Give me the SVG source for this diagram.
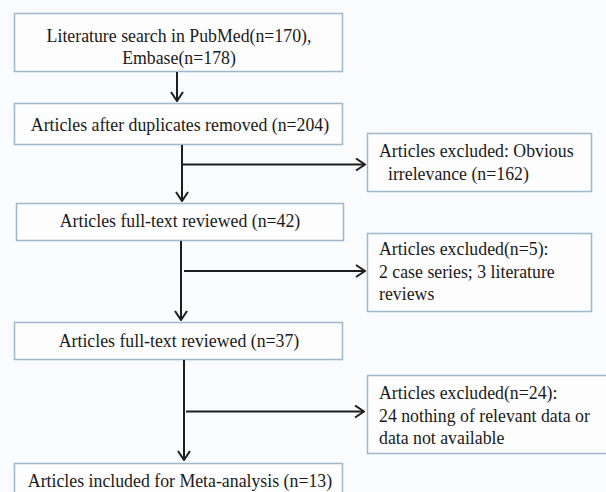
<svg xmlns="http://www.w3.org/2000/svg" width="606" height="492" viewBox="0 0 606 492">
<defs>
<marker id="ah" viewBox="0 0 12 14" refX="11" refY="7" markerWidth="12" markerHeight="14" markerUnits="userSpaceOnUse" orient="auto">
<path d="M2,1 L11,7 L2,13" fill="none" stroke="#1e1e1e" stroke-width="2"/>
</marker>
</defs>
<style>
.box{fill:#fdfdfe;stroke:#9db8cb;stroke-width:1.5}
.t{font-family:"Liberation Serif","Times New Roman",serif;font-size:17.8px;fill:#1a1a1a}
.c{text-anchor:middle}
.ln{stroke:#1e1e1e;stroke-width:2;fill:none}
</style>
<rect width="606" height="492" fill="#fafbfd"/>
<g id="n1"><rect class="box" x="14.5" y="13.5" width="328" height="58"/>
<text class="t c" x="179" y="42">Literature search in PubMed(n=170),</text>
<text class="t c" x="179" y="64">Embase(n=178)</text></g>
<g id="n2"><rect class="box" x="14.5" y="103.5" width="328" height="41"/>
<text class="t c" x="180" y="131">Articles after duplicates removed (n=204)</text></g>
<g id="n3"><rect class="box" x="367.5" y="133.5" width="224" height="58"/>
<text class="t" x="379" y="157">Articles excluded: Obvious</text>
<text class="t" x="388" y="180">irrelevance (n=162)</text></g>
<g id="n4"><rect class="box" x="16.5" y="203.5" width="327" height="37"/>
<text class="t c" x="180" y="227">Articles full-text reviewed (n=42)</text></g>
<g id="n5"><rect class="box" x="367.5" y="233.5" width="224" height="78"/>
<text class="t" x="379" y="255">Articles excluded(n=5):</text>
<text class="t" x="379" y="278">2 case series; 3 literature</text>
<text class="t" x="379" y="300">reviews</text></g>
<g id="n6"><rect class="box" x="14.5" y="322.5" width="328" height="37"/>
<text class="t c" x="179" y="347">Articles full-text reviewed (n=37)</text></g>
<g id="n7"><rect class="box" x="367.5" y="375.5" width="250" height="78"/>
<text class="t" x="379" y="399">Articles excluded(n=24):</text>
<text class="t" x="379" y="422">24 nothing of relevant data or</text>
<text class="t" x="379" y="444">data not available</text></g>
<g id="n8"><rect class="box" x="14.5" y="463.5" width="328" height="40"/>
<text class="t c" x="180" y="487">Articles included for Meta-analysis (n=13)</text></g>
<g id="connectors">
<line class="ln" x1="177" y1="72" x2="177" y2="101" marker-end="url(#ah)"/>
<line class="ln" x1="182" y1="145" x2="182" y2="201" marker-end="url(#ah)"/>
<line class="ln" x1="182" y1="164.5" x2="365" y2="164.5" marker-end="url(#ah)"/>
<line class="ln" x1="181" y1="241" x2="181" y2="320" marker-end="url(#ah)"/>
<line class="ln" x1="184" y1="271" x2="365" y2="271" marker-end="url(#ah)"/>
<line class="ln" x1="184" y1="360" x2="184" y2="460" marker-end="url(#ah)"/>
<line class="ln" x1="186" y1="411.5" x2="364" y2="411.5" marker-end="url(#ah)"/>
</g>
</svg>
